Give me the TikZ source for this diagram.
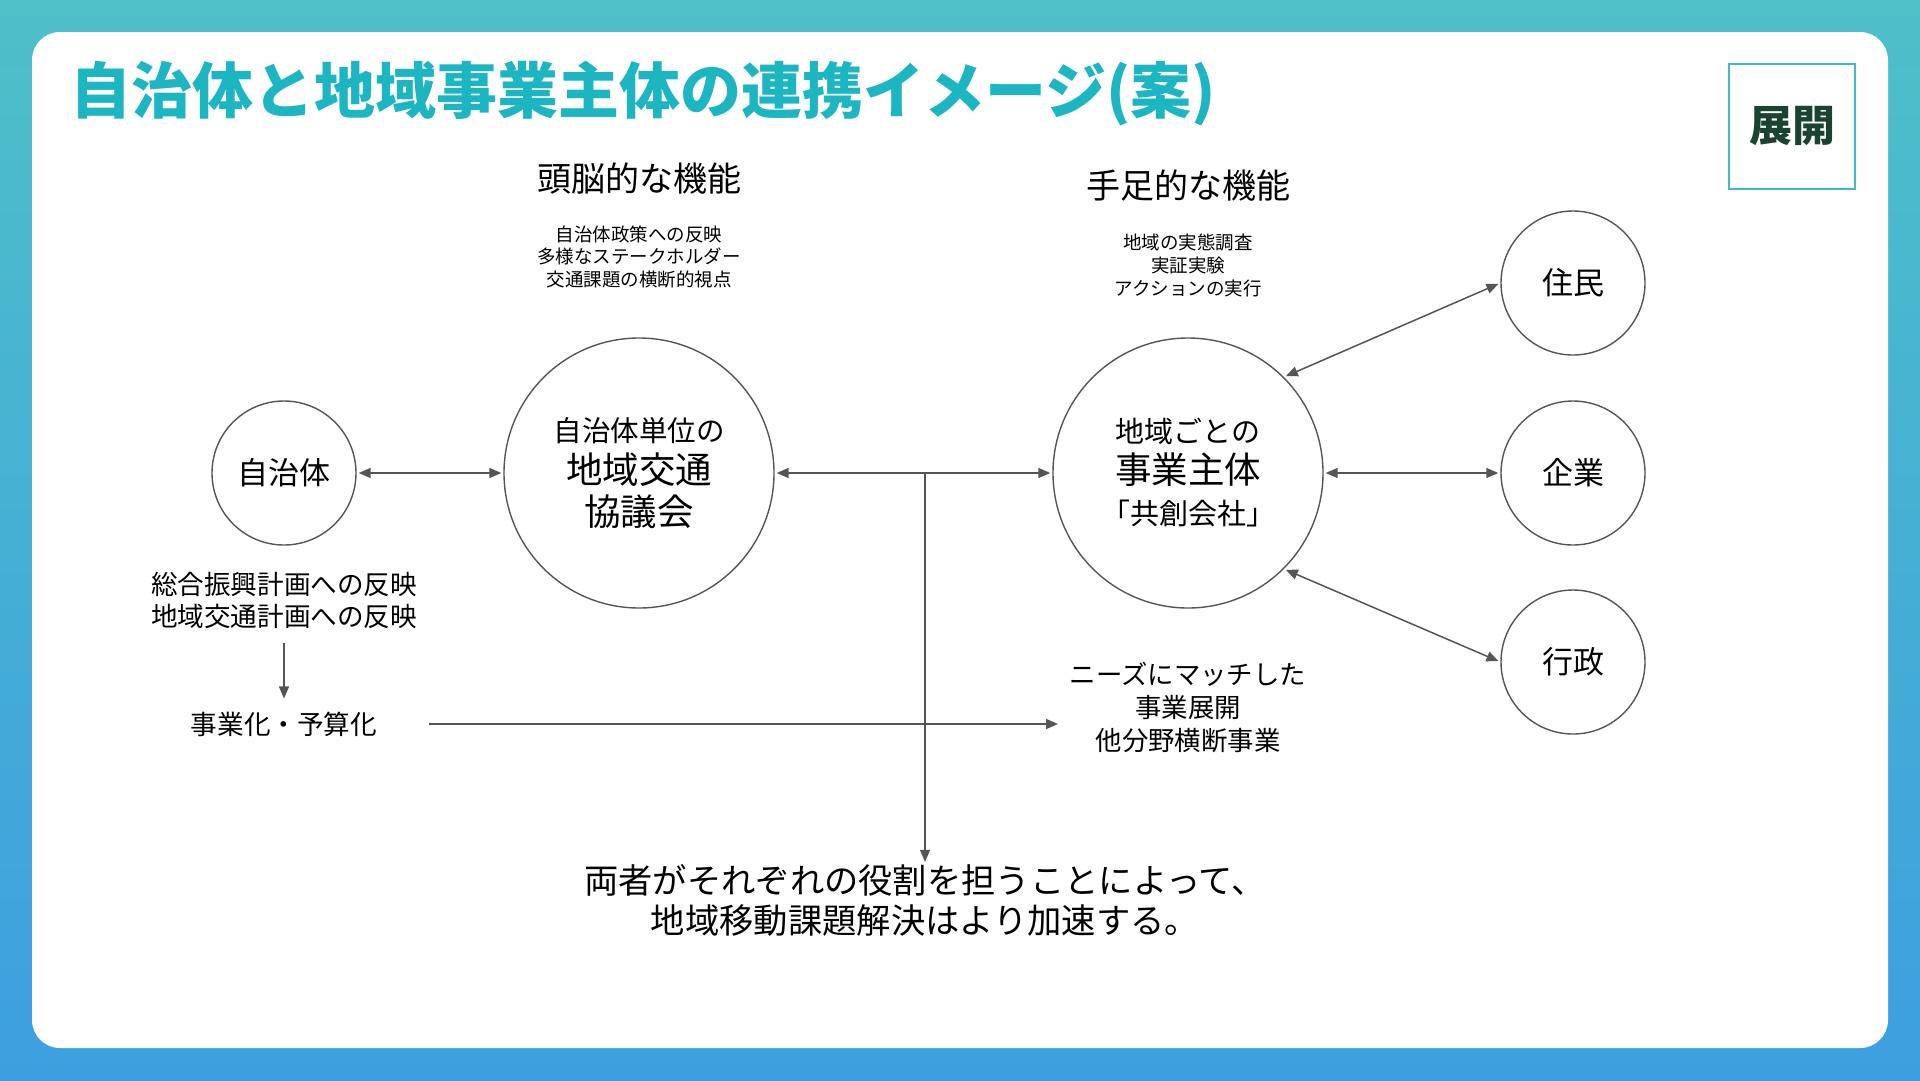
\documentclass[tikz,border=0pt]{standalone}
\usepackage{fontspec}
\setmainfont{Noto Sans CJK JP}
\usetikzlibrary{arrows.meta}
\definecolor{bgtop}{HTML}{4EC0C8}
\definecolor{bgbot}{HTML}{3D9FE0}
\definecolor{titlec}{HTML}{1CB5C2}
\definecolor{boxc}{HTML}{3FB8C9}
\definecolor{tagc}{HTML}{1B4332}
\definecolor{linec}{HTML}{555555}
\begin{document}
\begin{tikzpicture}[x=1pt,y=-1pt,
  circ/.style={circle,draw=linec,line width=1.4pt,inner sep=0pt,text=black,align=center},
  conn/.style={draw=linec,line width=1.5pt,{Triangle[length=12pt,width=10pt]}-{Triangle[length=12pt,width=10pt]},shorten <=2pt,shorten >=2pt},
  one/.style={draw=linec,line width=1.5pt,-{Triangle[length=12pt,width=10pt]}},
  txt/.style={align=center,text=black,inner sep=0pt},
]
\useasboundingbox (0,0) rectangle (1920,1080);
\shade[top color=bgtop,bottom color=bgbot] (0,0) rectangle (1920,1080);
\fill[white,rounded corners=28pt] (32,32) rectangle (1888,1048);

% title and tag
\node[anchor=west,inner sep=0pt,text=titlec,font=\fontsize{61}{68}\selectfont\bfseries] (title) at (70,94) {自治体と地域事業主体の連携イメージ(案)};
\node[draw=boxc,line width=2pt,minimum width=126pt,minimum height=125pt,inner sep=0pt,text=tagc,font=\fontsize{43}{48}\selectfont\bfseries] (tag) at (1792,126) {展開};

% headings
\node[txt,font=\fontsize{34}{40}\selectfont] (h1) at (639,179) {頭脳的な機能};
\node[txt,font=\fontsize{18.5}{22.5}\selectfont] (d1) at (639,257) {自治体政策への反映\\多様なステークホルダー\\交通課題の横断的視点};
\node[txt,font=\fontsize{34}{40}\selectfont] (h2) at (1188,186) {手足的な機能};
\node[txt,font=\fontsize{18.5}{23}\selectfont] (d2) at (1188,265) {地域の実態調査\\実証実験\\アクションの実行};

% circles
\node[circ,minimum size=144pt,font=\fontsize{31}{36}\selectfont] (jichi) at (284,473) {自治体};
\node[circ,minimum size=270pt,font=\fontsize{36.5}{42}\selectfont] (kyogi) at (639,473) {{\fontsize{28.5}{34}\selectfont 自治体単位の}\\地域交通\\協議会};
\node[circ,minimum size=270pt,font=\fontsize{36.5}{41}\selectfont] (jigyo) at (1188,473) {{\fontsize{29}{34}\selectfont 地域ごとの}\\事業主体\\{\fontsize{29}{34}\selectfont 「共創会社」}};
\node[circ,minimum size=144pt,font=\fontsize{31}{36}\selectfont] (jumin) at (1573,283) {住民};
\node[circ,minimum size=144pt,font=\fontsize{31}{36}\selectfont] (kigyo) at (1573,473) {企業};
\node[circ,minimum size=144pt,font=\fontsize{31}{36}\selectfont] (gyosei) at (1573,662) {行政};

% lower texts
\node[txt,font=\fontsize{26.6}{32}\selectfont] (plan) at (284,600) {総合振興計画への反映\\地域交通計画への反映};
\node[txt,font=\fontsize{26.6}{32}\selectfont] (biz) at (284,724) {事業化・予算化};
\node[txt,font=\fontsize{26.4}{33}\selectfont] (needs) at (1188,707) {ニーズにマッチした\\事業展開\\他分野横断事業};
\node[txt,font=\fontsize{34.3}{40}\selectfont] (bottom) at (925,900) {両者がそれぞれの役割を担うことによって、\\地域移動課題解決はより加速する。};

% connectors
\draw[conn] (jichi) -- (kyogi);
\draw[conn] (kyogi) -- (jigyo);
\draw[conn] (jigyo) -- (kigyo);
\draw[conn] (jigyo.45) -- (jumin.west);
\draw[conn] (jigyo.-45) -- (gyosei.west);
\coordinate (junc) at (925,473);
\draw[one,shorten >=2pt] (junc) -- (bottom.north);
\draw[one,shorten <=14pt,shorten >=13pt] (plan.south) -- (biz.north);
\coordinate (s1) at (429,724);
\coordinate (e1) at (1058,724);
\draw[one] (s1) -- (e1);
\end{tikzpicture}
\end{document}
